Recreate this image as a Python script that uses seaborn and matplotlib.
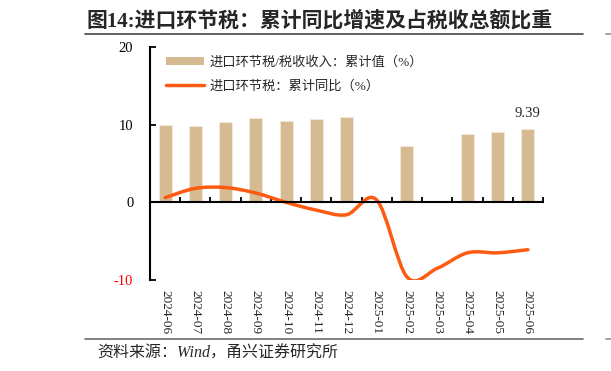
import numpy as np
import pandas as pd
import matplotlib
matplotlib.use("Agg")
import matplotlib.pyplot as plt
import seaborn as sns
from matplotlib.path import Path
from matplotlib.patches import PathPatch
from matplotlib.lines import Line2D
from matplotlib.patches import Patch

# ---- data ----
months = ["2024-06", "2024-07", "2024-08", "2024-09", "2024-10", "2024-11", "2024-12",
          "2025-01", "2025-02", "2025-03", "2025-04", "2025-05", "2025-06"]
share_pct = [9.9, 9.8, 10.4, 10.8, 10.5, 10.7, 11.0,
             np.nan, 7.3, np.nan, 8.8, 9.1, 9.39]
yoy_pct = [0.6, 1.8, 1.9, 1.2, 0.0, -1.0, -1.6,
           0.3, -9.6, -8.5, -6.5, -6.5, -6.1]
yticks = [-10, 0, 10, 20]
title = "图14:进口环节税：累计同比增速及占税收总额比重"
legend_bar = "进口环节税/税收收入：累计值（%）"
legend_line = "进口环节税：累计同比（%）"
source = "资料来源：Wind，甬兴证券研究所"
last_label = "9.39"

BAR_C = "#D5BA92"
LINE_C = "#FF5A12"

sns.set_theme(style="white")
plt.rcParams["font.family"] = ["Liberation Serif", "Noto Sans CJK SC"]
plt.rcParams["axes.unicode_minus"] = False

fig = plt.figure(figsize=(6.11, 3.71), dpi=100)
W, H = 611, 371
ax = fig.add_axes([150 / W, 1 - 280 / H, (543 - 150) / W, (280 - 47) / H])

df = pd.DataFrame({"month": months, "share": share_pct})
sns.barplot(data=df, x="month", y="share", order=months, color=BAR_C,
            width=0.43, saturation=1, edgecolor="#F3E9DA", linewidth=0.6, ax=ax)

# smooth (Excel-like) line through the data points
xs = np.arange(len(months), dtype=float)
ys = np.array(yoy_pct, dtype=float)
verts = [(xs[0], ys[0])]
codes = [Path.MOVETO]
n = len(xs)
for i in range(n - 1):
    p0 = np.array([xs[max(i - 1, 0)], ys[max(i - 1, 0)]])
    p1 = np.array([xs[i], ys[i]])
    p2 = np.array([xs[i + 1], ys[i + 1]])
    p3 = np.array([xs[min(i + 2, n - 1)], ys[min(i + 2, n - 1)]])
    c1 = p1 + (p2 - p0) / 6.0
    c2 = p2 - (p3 - p1) / 6.0
    verts += [tuple(c1), tuple(c2), tuple(p2)]
    codes += [Path.CURVE4] * 3
ax.add_patch(PathPatch(Path(verts, codes), facecolor="none", edgecolor=LINE_C,
                       lw=2.5, capstyle="round", joinstyle="round", zorder=4))

ax.set_xlim(-0.5, len(months) - 0.5)
ax.set_ylim(-10, 20)
ax.set_xlabel("")
ax.set_ylabel("")

# spines
for s in ["top", "right"]:
    ax.spines[s].set_visible(False)
ax.spines["left"].set_linewidth(1.5)
ax.spines["left"].set_color("black")
ax.spines["bottom"].set_position(("data", 0))
ax.spines["bottom"].set_linewidth(1.5)
ax.spines["bottom"].set_color("black")
ax.spines["bottom"].set_zorder(5)

ax.set_yticks(yticks)
ax.set_yticklabels([str(v) for v in yticks])
ax.tick_params(axis="y", direction="in", length=4, width=1.3, color="black",
               labelsize=10.5, pad=12, left=True)
for lab, v in zip(ax.get_yticklabels(), yticks):
    lab.set_color("red" if v < 0 else "black")

ax.set_xticks(np.arange(len(months)) + 0.5)
ax.set_xticklabels([])
ax.tick_params(axis="x", direction="in", length=3.5, width=1.3, color="black",
               bottom=True, labelbottom=False)

sec = ax.secondary_xaxis(0.0)
sec.set_xticks(np.arange(len(months)))
sec.set_xticklabels(months, rotation=270, fontsize=9.5)
sec.tick_params(axis="x", length=0, pad=7)
sec.spines["bottom"].set_visible(False)

ax.annotate(last_label, xy=(len(months) - 1, share_pct[-1]), xytext=(0, 7),
            textcoords="offset points", ha="center", va="bottom", fontsize=10.5)

handles = [Patch(facecolor=BAR_C, edgecolor="none"),
           Line2D([0], [0], color=LINE_C, lw=2.5)]
fig.legend(handles, [legend_bar, legend_line], loc="upper left",
           bbox_to_anchor=(166 / W, 1 - 56 / H), frameon=False, fontsize=9.5,
           handlelength=2.9, handleheight=0.55, handletextpad=0.4,
           labelspacing=0.85, borderpad=0, borderaxespad=0)

fig.text(87 / W, 1 - 21 / H, title, fontsize=15, fontweight="bold",
         ha="left", va="center")
for y, c in [(34, "#555555"), (339, "#777777")]:
    fig.add_artist(Line2D([85 / W, 583 / W], [1 - y / H] * 2, color=c, lw=1.3))
    fig.add_artist(Line2D([606 / W, 611 / W], [1 - y / H] * 2, color="#999999", lw=1.3))
fig.text(97 / W, 1 - 354 / H, source, fontsize=11.5, style="italic",
         ha="left", va="center")

fig.savefig("out.png", dpi=100)
